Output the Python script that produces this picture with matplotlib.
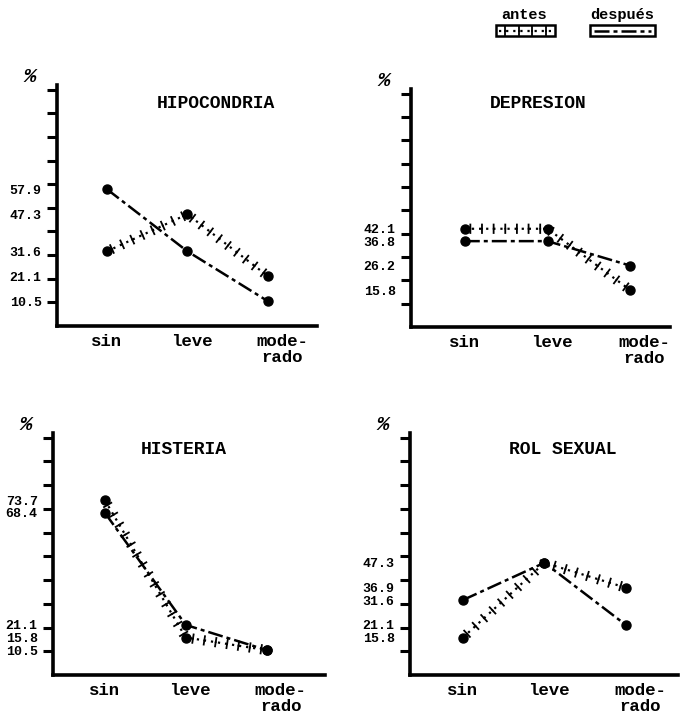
import matplotlib
matplotlib.use("Agg")
import matplotlib.pyplot as plt
from matplotlib import patheffects as pe
from matplotlib.patches import Rectangle
from matplotlib.transforms import offset_copy
import numpy as np

# ---------------- data ----------------
categories = ["sin", "leve", "mode-\nrado"]
titles = ["HIPOCONDRIA", "DEPRESION", "HISTERIA", "ROL SEXUAL"]

antes_hipo = [31.6, 47.3, 21.1]
despues_hipo = [57.9, 31.6, 10.5]
antes_dep = [42.1, 42.1, 15.8]
despues_dep = [36.8, 36.8, 26.3]
antes_his = [73.7, 15.8, 10.5]
despues_his = [68.4, 21.1, 10.5]
antes_rol = [15.8, 47.3, 36.8]
despues_rol = [31.6, 47.3, 21.1]

labels_hipo = ["57.9", "47.3", "31.6", "21.1", "10.5"]
labvals_hipo = [57.9, 47.3, 31.6, 21.1, 10.5]
labels_dep = ["42.1", "36.8", "26.2", "15.8"]
labvals_dep = [42.1, 36.8, 26.3, 15.8]
labels_his = ["73.7", "68.4", "21.1", "15.8", "10.5"]
labvals_his = [73.7, 68.4, 21.1, 15.8, 10.5]
labels_rol = ["47.3", "36.9", "31.6", "21.1", "15.8"]
labvals_rol = [47.3, 36.8, 31.6, 21.1, 15.8]

legend_labels = ["antes", "después"]

# ---------------- layout ----------------
W, H = 680, 717
FONT = "Liberation Mono"
fig = plt.figure(figsize=(W / 100, H / 100), dpi=100)


def rect(l, r, t, b):
    return [l / W, 1 - b / H, (r - l) / W, (b - t) / H]


panels = [
    dict(rect=rect(57, 317, 85, 326), xlim=(-0.62, 2.61), title_x=0.61, title_y=0.925,
         antes=antes_hipo, despues=despues_hipo, labs=labels_hipo, labv=labvals_hipo, title=titles[0]),
    dict(rect=rect(411, 670, 89, 327), xlim=(-0.65, 2.48), title_x=0.49, title_y=0.94,
         antes=antes_dep, despues=despues_dep, labs=labels_dep, labv=labvals_dep, title=titles[1]),
    dict(rect=rect(53, 325, 433, 675), xlim=(-0.64, 2.72), title_x=0.48, title_y=0.93,
         antes=antes_his, despues=despues_his, labs=labels_his, labv=labvals_his, title=titles[2]),
    dict(rect=rect(410, 678, 433, 675), xlim=(-0.65, 2.64), title_x=0.57, title_y=0.93,
         antes=antes_rol, despues=despues_rol, labs=labels_rol, labv=labvals_rol, title=titles[3]),
]

cat_dx = [0, 4, 14]

ANTES_DOT = dict(color="k", lw=1.6, ls=(0, (1, 2.2)))
ANTES_TICKS = [pe.TickedStroke(spacing=8, angle=90, length=0.38),
               pe.TickedStroke(spacing=8, angle=-90, length=0.38)]
DESP_STYLE = dict(color="k", lw=1.8, ls=(0, (6, 1.6, 1.6, 1.6)))

for p in panels:
    ax = fig.add_axes(p["rect"])
    ax.patch.set_visible(False)
    ax.set_xlim(*p["xlim"])
    ax.set_ylim(0, 102)
    for s in ("top", "right"):
        ax.spines[s].set_visible(False)
    for s in ("left", "bottom"):
        ax.spines[s].set_linewidth(2.6)
    ax.set_yticks(np.arange(10, 101, 10))
    ax.set_yticklabels([])
    ax.tick_params(axis="y", which="major", length=7.5, width=2.2, direction="out")
    ax.set_yticks(p["labv"], minor=True)
    ax.set_yticklabels(p["labs"], minor=True, fontsize=9.5, fontweight="bold", family=FONT)
    ax.tick_params(axis="y", which="minor", length=0, pad=11)
    ax.set_xticks([])

    x = np.arange(len(categories))
    for i, cat in enumerate(categories):
        tr = offset_copy(ax.get_xaxis_transform(), fig=fig, x=cat_dx[i], y=-8, units="dots")
        ax.text(i, 0, cat, transform=tr, ha="center", va="top", multialignment="center",
                fontsize=12.5, fontweight="bold", family=FONT, linespacing=1.05)

    # antes
    ax.plot(x, p["antes"], **ANTES_DOT, zorder=3)
    ax.plot(x, p["antes"], color="k", lw=1.3, path_effects=ANTES_TICKS, zorder=3)
    ax.plot(x, p["antes"], ls="none", marker="o", ms=6.5, color="k", zorder=4)
    # despues
    ax.plot(x, p["despues"], **DESP_STYLE, marker="o", ms=6.5, zorder=4)

    ax.text(p["title_x"], p["title_y"], p["title"], transform=ax.transAxes, ha="center",
            va="center", fontsize=13, fontweight="bold", family=FONT)
    ax.annotate("%", xy=(0, 1), xycoords="axes fraction", xytext=(-27, 8),
                textcoords="offset pixels", ha="center", va="center", fontsize=15,
                fontweight="bold", family=FONT, style="italic")

# ---------------- legend ----------------
lg = fig.add_axes([0, 0, 1, 1])
lg.set_xlim(0, W)
lg.set_ylim(H, 0)
lg.axis("off")
lg.patch.set_visible(False)
lg.add_patch(Rectangle((496, 25), 59, 11, fill=False, lw=1.8, color="k"))
lg.add_patch(Rectangle((590, 25), 65, 11, fill=False, lw=1.8, color="k"))
lg.plot([499, 552], [30.5, 30.5], **ANTES_DOT)
lg.plot([499, 552], [30.5, 30.5], color="k", lw=1.3, path_effects=ANTES_TICKS)
lg.plot([594, 651], [31, 31], **DESP_STYLE)
lg.text(524, 15, legend_labels[0], ha="center", va="center", fontsize=11, fontweight="bold", family=FONT)
lg.text(622, 15, legend_labels[1], ha="center", va="center", fontsize=11, fontweight="bold", family=FONT)

fig.savefig("out.png", dpi=100)
